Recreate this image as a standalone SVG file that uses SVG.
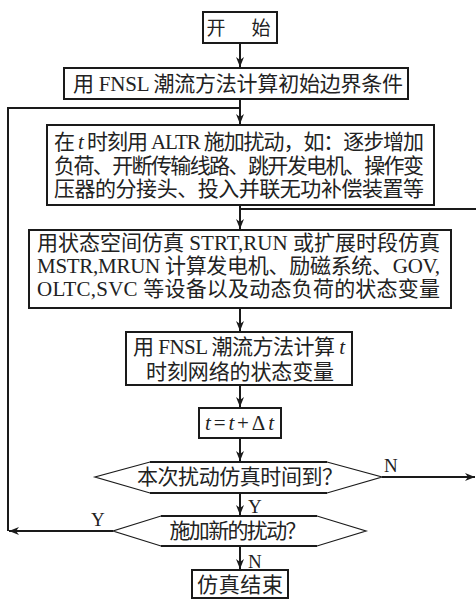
<svg xmlns="http://www.w3.org/2000/svg" width="476" height="599" viewBox="0 0 476 599">
<style>
.box{fill:#fff;stroke:#1a1a1a;stroke-width:2}
.hex{fill:#fff;stroke:#1a1a1a;stroke-width:1.2}
.edge{fill:none;stroke:#1a1a1a;stroke-width:2}
.t{font-family:"Liberation Serif","Noto Sans CJK SC",serif;font-size:21px;fill:#222}
.lbl{font-family:"Liberation Serif",serif;font-size:19px;fill:#222}
.i{font-style:italic}
</style>
<defs>
<marker id="ah" viewBox="0 0 10 8" refX="10" refY="4" markerWidth="10" markerHeight="8" markerUnits="userSpaceOnUse" orient="auto">
<path d="M0,0 L10,4 L0,8 L3,4 z" fill="#1a1a1a"/>
</marker>
</defs>
<rect width="476" height="599" fill="#fff"/>
<g id="connectors">
<path class="edge" d="M240,43 V67" marker-end="url(#ah)"/>
<path class="edge" d="M240,99 V124" marker-end="url(#ah)"/>
<path class="edge" d="M8,531 V108 H240"/>
<path class="edge" d="M240,205 V229" marker-end="url(#ah)"/>
<path class="edge" d="M240,209 H476"/>
<path class="edge" d="M240,308 V331" marker-end="url(#ah)"/>
<path class="edge" d="M240,385 V407" marker-end="url(#ah)"/>
<path class="edge" d="M240,438 V461" marker-end="url(#ah)"/>
<path class="edge" d="M382,477 H475" marker-end="url(#ah)"/>
<path class="edge" d="M240,493 V515" marker-end="url(#ah)"/>
<path class="edge" d="M113,531 H9" marker-end="url(#ah)"/>
<path class="edge" d="M240,546 V569" marker-end="url(#ah)"/>
<text class="lbl" x="384" y="472">N</text>
<text class="lbl" x="248" y="513">Y</text>
<text class="lbl" x="91" y="526">Y</text>
<text class="lbl" x="248" y="568">N</text>
</g>
<g id="start">
<rect class="box" x="203" y="12" width="74" height="31"/>
<text class="t" x="216" y="35" text-anchor="middle" style="font-size:19px">开</text>
<text class="t" x="261" y="35" text-anchor="middle" style="font-size:19px">始</text>
</g>
<g id="init">
<rect class="box" x="64" y="68" width="344" height="31"/>
<text class="t" x="73" y="91" textLength="330" lengthAdjust="spacing">用 FNSL 潮流方法计算初始边界条件</text>
</g>
<g id="disturb">
<rect class="box" x="47" y="125" width="387" height="80"/>
<text class="t" x="54" y="149" textLength="370" lengthAdjust="spacing">在 <tspan class="i">t</tspan> 时刻用 ALTR 施加扰动，如：逐步增加</text>
<text class="t" x="54" y="173" textLength="370" lengthAdjust="spacing">负荷、开断传输线路、跳开发电机、操作变</text>
<text class="t" x="54" y="196" textLength="370" lengthAdjust="spacing">压器的分接头、投入并联无功补偿装置等</text>
</g>
<g id="simulate">
<rect class="box" x="29" y="230" width="422" height="78"/>
<text class="t" x="37" y="250" textLength="403" lengthAdjust="spacing">用状态空间仿真 STRT,RUN 或扩展时段仿真</text>
<text class="t" x="37" y="273" textLength="403" lengthAdjust="spacing">MSTR,MRUN 计算发电机、励磁系统、GOV,</text>
<text class="t" x="37" y="296" textLength="403" lengthAdjust="spacing">OLTC,SVC 等设备以及动态负荷的状态变量</text>
</g>
<g id="network">
<rect class="box" x="126" y="332" width="226" height="53"/>
<text class="t" x="133" y="354" textLength="212" lengthAdjust="spacing">用 FNSL 潮流方法计算 <tspan class="i">t</tspan></text>
<text class="t" x="240" y="379" text-anchor="middle" textLength="188" lengthAdjust="spacing">时刻网络的状态变量</text>
</g>
<g id="step">
<rect class="box" x="199" y="408" width="82" height="30"/>
<text class="t" x="205" y="430" textLength="69" lengthAdjust="spacing"><tspan class="i">t</tspan>=<tspan class="i">t</tspan>+Δ<tspan class="i">t</tspan></text>
</g>
<g id="timeup">
<polygon class="hex" points="150,462 327,462 382,477 327,493 150,493 95,477"/>
<path class="edge" d="M150,462 H327 M150,493 H327"/>
<text class="t" x="240" y="484" text-anchor="middle" textLength="206" lengthAdjust="spacing">本次扰动仿真时间到？</text>
</g>
<g id="newdist">
<polygon class="hex" points="161,516 317,516 366,531 317,546 161,546 113,531"/>
<path class="edge" d="M161,516 H317 M161,546 H317"/>
<text class="t" x="238" y="538" text-anchor="middle" textLength="137" lengthAdjust="spacing">施加新的扰动？</text>
</g>
<g id="end">
<rect class="box" x="192" y="570" width="96" height="28"/>
<text class="t" x="240" y="592" text-anchor="middle" textLength="86" lengthAdjust="spacing">仿真结束</text>
</g>
</svg>
